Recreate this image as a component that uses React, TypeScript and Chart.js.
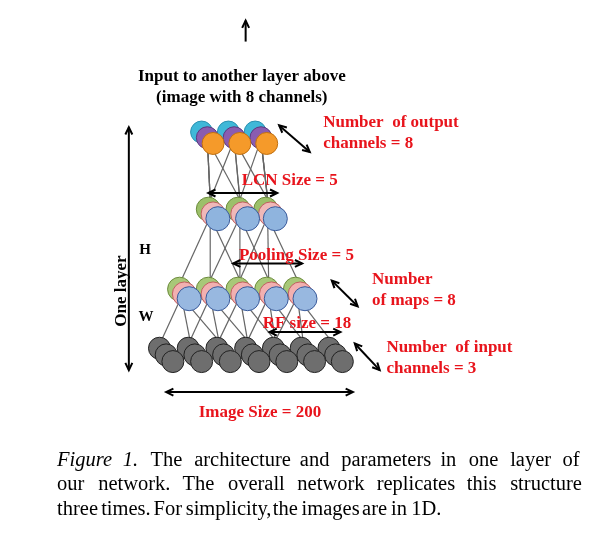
import React, { useEffect, useRef } from "react";
import { Chart, registerables } from "chart.js";
Chart.register(...registerables);

// layer groups: front-circle x positions and row y
const outX = [209, 237, 265];
const outY = 137;
const outColors = ["#3fb8d8", "#8a5cb0", "#f59a2a"];
const lcnX = [214, 245, 274];
const lcnY = 216;
const lcnColors = ["#9cc06a", "#f0b8b8", "#8fb4de"];
const poolX = [184, 214, 245, 275, 305];
const poolY = 300;
const inX = [167, 197, 227, 257, 286, 315, 344];
const inY = 366;
const inColors = ["#6e6e6e", "#6e6e6e", "#6e6e6e"];

const redLabels: [string, number, number, string][] = [
  ["Number  of output", 324, 120, "left"],
  ["channels = 8", 324, 142, "left"],
  ["LCN Size = 5", 289, 181, "center"],
  ["Pooling Size = 5", 296, 259, "center"],
  ["Number", 375, 285, "left"],
  ["of maps = 8", 375, 307, "left"],
  ["RF size = 18", 307, 331, "center"],
  ["Number  of input", 390, 356, "left"],
  ["channels = 3", 390, 378, "left"],
  ["Image Size = 200", 258, 424, "center"],
];
const hArrows = [[204, 276, 189], [230, 302, 263], [268, 342, 335], [160, 355, 398]];
const dArrows = [[278, 118, 310, 146], [333, 281, 360, 308], [357, 347, 383, 375], [121, 120, 121, 375], [243, 30, 243, 8]];
const caption = [
  "The architecture and parameters in one layer of",
  "our network. The overall network replicates this structure",
  "three times. For simplicity, the images are in 1D.",
];

export default function App() {
  const ref = useRef<HTMLCanvasElement>(null);
  useEffect(() => {
    document.body.style.margin = "0";
    const ds: any[] = [];
    const line = (x1: number, y1: number, x2: number, y2: number) =>
      ds.push({ type: "line", data: [{ x: x1, y: y1 }, { x: x2, y: y2 }], borderColor: "#666", borderWidth: 1.2, pointRadius: 0, order: 10 });
    poolX.forEach((px, i) => [0, 1, 2].forEach((k) => line(inX[i + k] - 12, inY - 22, px - 8, poolY - 2)));
    lcnX.forEach((lx, j) => [0, 1, 2].forEach((k) => line(poolX[j + k] - 8, poolY - 20, lx - 8, lcnY - 2)));
    outX.forEach((ox, k) => [-1, 0, 1].forEach((d) => {
      const j = Math.min(2, Math.max(0, k + d));
      line(lcnX[j] - 8, lcnY - 20, ox - 6, outY - 4);
    }));
    lcnX.forEach((lx, j) => line(lx - 8, lcnY - 20, outX[j] - 6, outY - 4));
    const circles = (xs: number[], y: number, colors: string[], r: number, step: number, border: string[]) => {
      colors.forEach((c, ci) => {
        const off = (colors.length - 1 - ci) * step;
        ds.push({
          type: "scatter",
          data: xs.map((x) => ({ x: x - off, y: y - off })),
          backgroundColor: c, borderColor: border[ci], borderWidth: 1, pointRadius: r, order: 5 - ci,
        });
      });
    };
    circles(inX, inY, inColors, 11, 7, ["#222", "#222", "#222"]);
    circles(poolX, poolY, ["#a8c878", "#f2b0b0", "#98b8e0"], 12, 5, ["#6a8a3a", "#c06060", "#3a5a9a"]);
    circles(lcnX, lcnY, lcnColors, 12, 5, ["#6a8a3a", "#c06060", "#3a5a9a"]);
    circles(outX, outY, outColors, 11, 6, ["#2a90b0", "#5a3a80", "#c07010"]);

    const arrowHead = (ctx: CanvasRenderingContext2D, x1: number, y1: number, x2: number, y2: number) => {
      const a = Math.atan2(y2 - y1, x2 - x1), L = 8;
      ctx.beginPath();
      ctx.moveTo(x2 - L * Math.cos(a - 0.45), y2 - L * Math.sin(a - 0.45));
      ctx.lineTo(x2, y2);
      ctx.lineTo(x2 - L * Math.cos(a + 0.45), y2 - L * Math.sin(a + 0.45));
      ctx.stroke();
    };
    const plugin = {
      id: "deco",
      afterDatasetsDraw(chart: any) {
        const ctx: CanvasRenderingContext2D = chart.ctx;
        const sx = (v: number) => chart.scales.x.getPixelForValue(v);
        const sy = (v: number) => chart.scales.y.getPixelForValue(v);
        ctx.save();
        ctx.strokeStyle = "#000"; ctx.lineWidth = 2;
        const dbl = (x1: number, y1: number, x2: number, y2: number, both: boolean) => {
          ctx.beginPath(); ctx.moveTo(sx(x1), sy(y1)); ctx.lineTo(sx(x2), sy(y2)); ctx.stroke();
          arrowHead(ctx, sx(x1), sy(y1), sx(x2), sy(y2));
          if (both) arrowHead(ctx, sx(x2), sy(y2), sx(x1), sy(y1));
        };
        hArrows.forEach(([a, b, y]) => dbl(a, y, b, y, true));
        dArrows.forEach(([a, b, c, d], i) => dbl(a, b, c, d, i < 4));
        ctx.fillStyle = "#000"; ctx.font = "bold 17px 'Liberation Serif'"; ctx.textAlign = "center";
        ctx.fillText("Input to another layer above", sx(239), sy(71));
        ctx.fillText("(image with 8 channels)", sx(239), sy(93));
        ctx.font = "bold 15px 'Liberation Serif'";
        ctx.fillText("H", sx(138), sy(253));
        ctx.fillText("W", sx(139), sy(323));
        ctx.save(); ctx.translate(sx(118), sy(292)); ctx.rotate(-Math.PI / 2);
        ctx.font = "bold 17px 'Liberation Serif'"; ctx.fillText("One layer", 0, 0); ctx.restore();
        ctx.fillStyle = "#e8141c"; ctx.font = "bold 17px 'Liberation Serif'";
        redLabels.forEach(([t, x, y, al]) => { ctx.textAlign = al as CanvasTextAlign; ctx.fillText(t, sx(x), sy(y)); });
        // caption, justified
        ctx.fillStyle = "#000"; ctx.textAlign = "left";
        const left = 46, right = 591;
        const fontR = "20.5px 'Liberation Serif'", fontI = "italic 20.5px 'Liberation Serif'";
        const drawJust = (words: { t: string; f: string }[], y: number, justify: boolean) => {
          let total = 0;
          words.forEach((w) => { ctx.font = w.f; total += ctx.measureText(w.t).width; });
          ctx.font = fontR;
          const sp = justify ? (right - left - total) / (words.length - 1) : ctx.measureText(" ").width;
          let x = left;
          words.forEach((w) => { ctx.font = w.f; ctx.fillText(w.t, sx(x), sy(y)); x += ctx.measureText(w.t).width + sp; });
        };
        const ws = (s: string) => s.split(" ").map((t) => ({ t, f: fontR }));
        drawJust([{ t: "Figure", f: fontI }, { t: "1.", f: fontI }, ...ws(caption[0])], 476, true);
        drawJust(ws(caption[1]), 501, true);
        drawJust(ws(caption[2]), 527, false);
        ctx.restore();
      },
    };
    const chart = new Chart(ref.current!, {
      type: "scatter",
      data: { datasets: ds },
      options: {
        animation: false, responsive: false,
        layout: { padding: 0 },
        plugins: { legend: { display: false }, tooltip: { enabled: false } },
        scales: {
          x: { type: "linear", min: 0, max: 610, display: false },
          y: { type: "linear", min: 0, max: 546, reverse: true, display: false },
        },
      },
      plugins: [plugin],
    });
    return () => chart.destroy();
  }, []);
  return <canvas ref={ref} width={610} height={546} style={{ display: "block", background: "#fff" }} />;
}
